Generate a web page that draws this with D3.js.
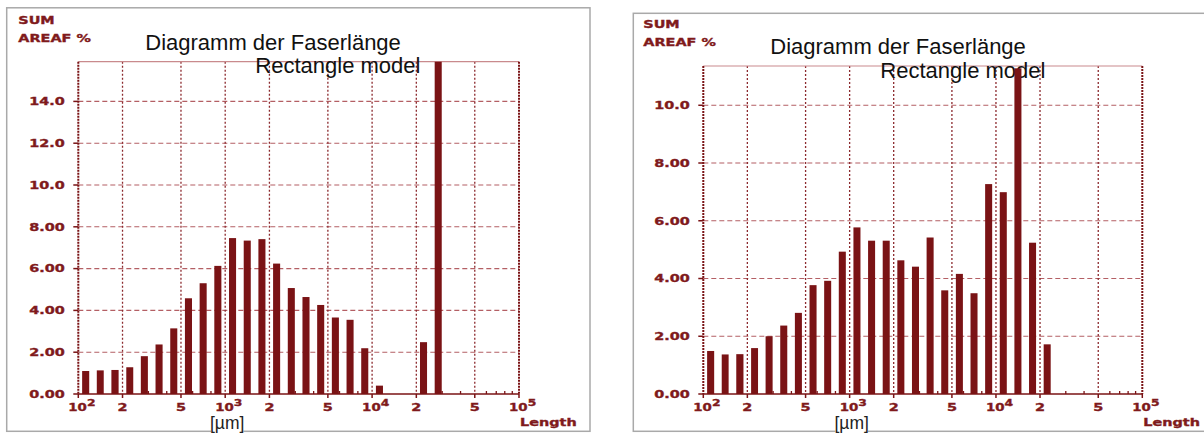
<!DOCTYPE html>
<html>
<head>
<meta charset="utf-8">
<script src="https://cdn.jsdelivr.net/npm/d3@7"></script>
<style>
body{margin:0;background:#fff}
svg{display:block}
</style>
</head>
<body>
<svg id="graph"></svg>
<script>
// lower edges of the length classes in µm (10 classes per decade)
var binEdges = [100,126,158,200,251,316,398,501,631,794,1000,1259,1585,1995,2512,3162,3981,5012,6310,7943,10000,12589,15849,19953,25119,31623]

// SUM AREAF % per class
var leftValues = [1.1,1.13,1.15,1.28,1.81,2.37,3.14,4.58,5.3,6.13,7.46,7.34,7.41,6.24,5.07,4.64,4.26,3.66,3.55,2.19,0.4,0,0,2.48,16.5]
var rightValues = [1.49,1.37,1.38,1.59,2.0,2.37,2.81,3.77,3.92,4.93,5.77,5.31,5.31,4.63,4.41,5.42,3.59,4.16,3.49,7.27,6.99,11.28,5.24,1.72]

var xMajor = [100,200,500,1000,2000,5000,10000,20000,50000,100000]
var xLabelBase = ["10","2","5","10","2","5","10","2","5","10"]
var xLabelExp = ["2","","","3","","","4","","","5"]
var yTicksLeft = [0,2,4,6,8,10,12,14]
var yTicksRight = [0,2,4,6,8,10]
var titleLines = ["Diagramm der Faserlänge","Rectangle model"]

var red = "#7a1315"
var txtRed = "#7f1a1c"
var monoFont = "'DejaVu Sans', sans-serif"

var svg = d3.select("#graph").attr("width",1204).attr("height",434)
svg.append("rect").attr("width",1204).attr("height",434).attr("fill","#fff")

function fmtY(d){ return d<10 ? d.toFixed(2) : d.toFixed(1) }

function wideText(g, x, y, txt, anchor){
    return g.append("text")
        .attr("transform","translate("+x+","+y+") scale(1.4,1)")
        .attr("text-anchor",anchor||"start")
        .attr("font-family",monoFont)
        .attr("font-weight","bold")
        .attr("font-size","10.3px")
        .attr("fill",txtRed)
        .attr("stroke",txtRed).attr("stroke-width",0.35)
        .text(txt)
}

function drawChart(cfg){
    var g = svg.append("g")
    var x = d3.scaleLog().domain([100,100000]).range([cfg.left,cfg.right])
    var y = d3.scaleLinear().domain([0,cfg.yMax]).range([cfg.bottom,cfg.top])

    // panel frame
    g.append("rect")
        .attr("x",cfg.panel[0]).attr("y",cfg.panel[1])
        .attr("width",cfg.panel[2]-cfg.panel[0]).attr("height",cfg.panel[3]-cfg.panel[1])
        .attr("fill","none").attr("stroke","#a9a9a9").attr("stroke-width",1.5)

    // horizontal dashed grid
    g.selectAll(".hg").data(cfg.yTicks.filter(d=>d>0)).enter().append("line")
        .attr("x1",cfg.left).attr("x2",cfg.right)
        .attr("y1",d=>y(d)).attr("y2",d=>y(d))
        .attr("stroke","#b45f64").attr("stroke-width",1.1).attr("stroke-dasharray","5,3")

    // y tick marks
    g.selectAll(".yt").data(cfg.yTicks).enter().append("line")
        .attr("x1",cfg.left-5).attr("x2",cfg.left)
        .attr("y1",d=>y(d)).attr("y2",d=>y(d))
        .attr("stroke",red).attr("stroke-width",1.5)

    // vertical dotted grid
    g.selectAll(".vg").data(xMajor.slice(1,-1)).enter().append("line")
        .attr("x1",d=>x(d)).attr("x2",d=>x(d))
        .attr("y1",cfg.top).attr("y2",cfg.bottom)
        .attr("stroke","#8c2a2e").attr("stroke-width",1.3).attr("stroke-dasharray","2,2")

    // top border
    g.append("line").attr("x1",cfg.left).attr("x2",cfg.right)
        .attr("y1",cfg.top).attr("y2",cfg.top)
        .attr("stroke","#c98a8d").attr("stroke-width",1.2)

    // left axis + right border, dense dotted
    g.selectAll(".side").data([100,100000]).enter().append("line")
        .attr("x1",d=>x(d)).attr("x2",d=>x(d))
        .attr("y1",cfg.top).attr("y2",cfg.bottom)
        .attr("stroke",red).attr("stroke-width",2).attr("stroke-dasharray","2,1")

    // titles (bars are drawn over them)
    g.append("text").attr("x",cfg.left+67).attr("y",cfg.top-11.7)
        .attr("font-family","'Liberation Sans', Arial, sans-serif").attr("font-size","22px")
        .attr("fill","#111").text(titleLines[0])
    g.append("text").attr("x",cfg.left+177).attr("y",cfg.top+11.7)
        .attr("font-family","'Liberation Sans', Arial, sans-serif").attr("font-size","22px")
        .attr("fill","#111").text(titleLines[1])

    // bars
    var clipId = "clip"+cfg.id
    g.append("clipPath").attr("id",clipId).append("rect")
        .attr("x",cfg.left).attr("y",cfg.top)
        .attr("width",cfg.right-cfg.left).attr("height",cfg.bottom-cfg.top)
    var bars = cfg.values.map((v,i)=>({lo:binEdges[i],hi:binEdges[i+1],v:v}))
    g.append("g").attr("clip-path","url(#"+clipId+")")
        .selectAll("rect").data(bars.filter(d=>d.v>0)).enter().append("rect")
        .attr("x",d=>(x(d.lo)+x(d.hi))/2-(x(d.hi)-x(d.lo))*0.24)
        .attr("width",d=>(x(d.hi)-x(d.lo))*0.48)
        .attr("y",d=>y(d.v))
        .attr("height",d=>y(0)-y(d.v))
        .attr("fill",red)

    // zero axis line
    g.append("line").attr("x1",cfg.left).attr("x2",cfg.right)
        .attr("y1",y(0)).attr("y2",y(0))
        .attr("stroke",red).attr("stroke-width",1.6)

    // minor ticks (upwards) and major ticks (downwards)
    var minor = []
    ;[100,1000,10000].forEach(function(dec){
        [3,4,6,7,8,9].forEach(function(k){ minor.push(dec*k) })
    })
    g.selectAll(".mt").data(minor).enter().append("line")
        .attr("x1",d=>x(d)).attr("x2",d=>x(d))
        .attr("y1",y(0)-3).attr("y2",y(0))
        .attr("stroke",red).attr("stroke-width",1.3)
    g.selectAll(".Mt").data(xMajor).enter().append("line")
        .attr("x1",d=>x(d)).attr("x2",d=>x(d))
        .attr("y1",y(0)).attr("y2",y(0)+4)
        .attr("stroke",red).attr("stroke-width",1.5)

    // x tick labels
    xMajor.forEach(function(d,i){
        var t = wideText(g, x(d), y(0)+17, xLabelBase[i], "middle")
        if (xLabelExp[i]){
            t.attr("text-anchor","start").attr("transform","translate("+(x(d)-10)+","+(y(0)+17)+") scale(1.3,1)")
            t.append("tspan").attr("dy",-5).attr("font-size","9.5px").text(xLabelExp[i])
        }
    })

    // y tick labels
    cfg.yTicks.forEach(function(d){
        wideText(g, cfg.left-13.5, y(d)+3.8, fmtY(d), "end")
    })

    // axis captions
    wideText(g, cfg.left-60, cfg.top-38, "SUM")
    wideText(g, cfg.left-60, cfg.top-20, "AREAF %")
    wideText(g, cfg.right+1, y(0)+32, "Length")

    var um = g.append("text").attr("x",x(1000)+2).attr("y",cfg.panel[3]-2.5)
        .attr("text-anchor","middle")
        .attr("font-family","'Liberation Sans', Arial, sans-serif").attr("font-size","17.5px")
        .attr("fill","#222").text("[µm]")
    var bb = um.node().getBBox()
    g.insert("rect","text:last-of-type")
        .attr("x",bb.x+1).attr("y",cfg.panel[3]-2).attr("width",bb.width-2).attr("height",4)
        .attr("fill","#fff")
    um.raise()
}

drawChart({id:"L", panel:[6.7,7.8,590,431.3], left:78.3, right:519, top:61.7, bottom:394,
    yMax:15.9, yTicks:yTicksLeft, values:leftValues})
drawChart({id:"R", panel:[633.3,13.3,1212,431.3], left:703.3, right:1142.3, top:66, bottom:394,
    yMax:11.36, yTicks:yTicksRight, values:rightValues})
</script>
</body>
</html>
